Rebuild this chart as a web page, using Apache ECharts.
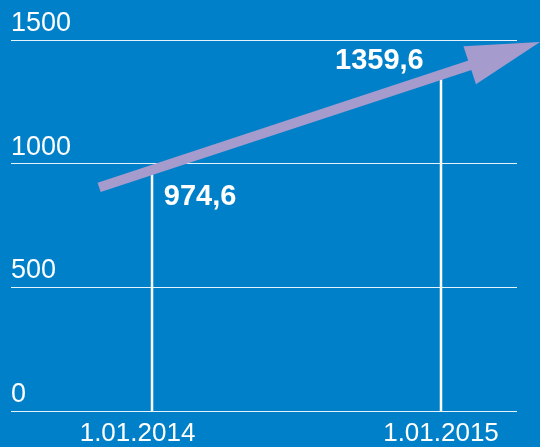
<!DOCTYPE html>
<html>
<head>
<meta charset="utf-8">
<script src="https://cdn.jsdelivr.net/npm/echarts@6/dist/echarts.min.js"></script>
<style>
html,body{margin:0;padding:0;background:#0080c8;}
#chart{width:540px;height:447px;}
</style>
</head>
<body>
<div id="chart"></div>
<script>
// ---- data ----
const categories = ['1.01.2014', '1.01.2015'];
const values = [974.6, 1359.6];
const yTicks = [0, 500, 1000, 1500];

// ---- style / layout constants ----
const FONT = '"Liberation Sans", Arial, sans-serif';
const arrowTailT = -0.183;   // arrow tail position along the x axis (in category units)
const arrowHeadT = 1.221;    // arrow head centre position

const xIdx = categories.map((c, i) => i);
const lerp = t => values[0] + (values[1] - values[0]) * t;
const fmt = v => v.toFixed(1).replace('.', ',');

const chart = echarts.init(document.getElementById('chart'), null, {renderer: 'canvas'});
chart.setOption({
  backgroundColor: '#0080c8',
  animation: false,
  grid: {left: 11, right: 23, top: 40, bottom: 35, containLabel: false},
  xAxis: {
    type: 'value',
    min: -0.488,
    max: 1.263,
    axisLine: {show: false},
    axisTick: {show: false},
    splitLine: {show: false},
    axisLabel: {
      customValues: xIdx,
      margin: 10,
      color: '#ffffff',
      fontFamily: FONT,
      fontSize: 26,
      formatter: v => {
        const i = Math.round(v);
        return (i === 0 ? '{a|' : '{b|') + categories[i] + '}';
      },
      rich: {
        a: {color: '#fff', fontFamily: FONT, fontSize: 26, padding: [0, 29, 0, 0]},
        b: {color: '#fff', fontFamily: FONT, fontSize: 26}
      }
    }
  },
  yAxis: {
    type: 'value',
    min: yTicks[0],
    max: yTicks[yTicks.length - 1],
    interval: yTicks[1] - yTicks[0],
    axisLine: {show: false},
    axisTick: {show: false},
    splitLine: {lineStyle: {color: 'rgba(255,255,255,0.9)', width: 1}},
    axisLabel: {
      inside: true,
      margin: 0,
      color: '#ffffff',
      fontFamily: FONT,
      fontSize: 27,
      verticalAlign: 'bottom',
      padding: [0, 0, 3, 0],
      formatter: v => String(v)
    }
  },
  series: [
    {
      type: 'bar',
      barWidth: 2.5,
      itemStyle: {color: '#ffffff'},
      data: values.map((v, i) => ({
        value: [xIdx[i], v],
        label: i === 0
          ? {show: true, position: [13, 13], align: 'left', verticalAlign: 'top'}
          : {show: true, position: [-16, -28], align: 'right', verticalAlign: 'top'}
      })),
      label: {
        color: '#ffffff',
        fontFamily: FONT,
        fontWeight: 'bold',
        fontSize: 29,
        formatter: p => fmt(p.value[1])
      },
      z: 2
    },
    {
      type: 'line',
      clip: false,
      data: [],
      silent: true,
      z: 3,
      markLine: {
        silent: true,
        animation: false,
        symbol: ['none', 'triangle'],
        symbolSize: [40, 74],
        label: {show: false},
        lineStyle: {color: '#a59bcd', width: 10, type: 'solid', opacity: 1},
        itemStyle: {color: '#a59bcd'},
        data: [[
          {coord: [arrowTailT, lerp(arrowTailT)]},
          {coord: [arrowHeadT, lerp(arrowHeadT)]}
        ]]
      }
    }
  ]
});
</script>
</body>
</html>
